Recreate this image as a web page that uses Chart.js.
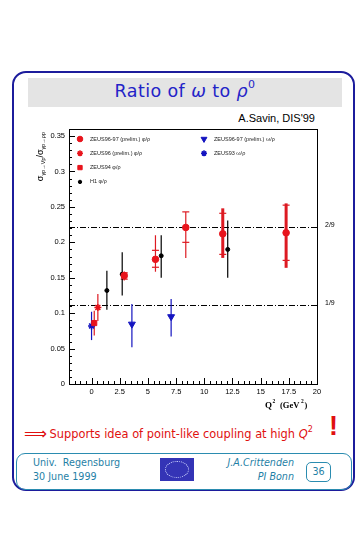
<!DOCTYPE html>
<html>
<head>
<meta charset="utf-8">
<script src="https://cdn.jsdelivr.net/npm/chart.js@4/dist/chart.umd.min.js"></script>
<style>
body{margin:0;background:#fff;width:363px;height:535px;position:relative;overflow:hidden;font-family:"DejaVu Sans",Verdana,sans-serif}
.abs{position:absolute;white-space:nowrap}
#frame{left:12px;top:71px;width:339px;height:416px;border:2px solid #1c1c9c;border-radius:14px}
#band{left:28px;top:78px;width:314px;height:29px;background:#e4e4e4}
#title{left:28px;top:80px;width:314px;text-align:center;font-size:17.5px;letter-spacing:0.4px;color:#2323c8}
#title sup{font-size:11px;position:relative;top:-2px}
#author{left:180px;top:112px;width:135px;text-align:right;font-family:"Liberation Sans",Arial,sans-serif;font-size:11px;color:#000}
#chartbox{left:0;top:110px;width:363px;height:300px}
#claim{left:24px;top:423px;font-size:11.4px;color:#e01010}
#claim .arr{font-size:16px;position:relative;top:1px;letter-spacing:-1px}
#claim sup{font-size:8px;position:relative;top:-1px}
#bang{left:329px;top:411px;font-size:27px;font-weight:bold;color:#e01010;font-family:"Liberation Sans",Arial,sans-serif}
#footer{left:16px;top:453px;width:334px;height:35px;border:1.5px solid #2b8cb0;border-radius:9px}
.foot{font-size:9.6px;color:#1f7fa6}
#logo{left:160px;top:458px;width:34px;height:23px;background:#3434b6}
#logo div{position:absolute;left:5px;top:3px;width:22px;height:15px;border:1px dotted #cfd6ff;border-radius:50%}
#page{left:306px;top:462px;width:23px;height:18px;border:1.5px solid #2b8cb0;border-radius:5px;text-align:center;line-height:18px;font-size:9.6px;color:#1f7fa6}
</style>
</head>
<body>
<div class="abs" id="frame"></div>
<div class="abs" id="band"></div>
<div class="abs" id="title">Ratio of <i>ω</i> to <i>ρ</i><sup>0</sup></div>
<div class="abs" id="author">A.Savin, DIS'99</div>
<div class="abs" id="chartbox"><canvas id="ratioChart" width="363" height="300"></canvas></div>
<div class="abs" id="claim"><span class="arr">⟹</span> Supports idea of point-like coupling at high <i>Q</i><sup>2</sup></div>
<div class="abs" id="bang">!</div>
<div class="abs" id="footer"></div>
<div class="abs foot" style="left:33px;top:457px">Univ.&nbsp; Regensburg</div>
<div class="abs foot" style="left:33px;top:471px">30 June 1999</div>
<div class="abs" id="logo"><div></div></div>
<div class="abs foot" style="left:190px;top:457px;width:104px;text-align:right;font-style:italic">J.A.Crittenden</div>
<div class="abs foot" style="left:190px;top:471px;width:104px;text-align:right;font-style:italic">PI Bonn</div>
<div class="abs" id="page">36</div>

<script>
// ZEUS96-97 (prelim.) phi/rho
var zeusPhiQ2 = [2.9, 5.67, 8.36, 11.64, 17.26];
var zeusPhiVal = [0.153, 0.176, 0.221, 0.212, 0.2135];
var zeusPhiErrUp = [0.006, 0.034, 0.022, 0.036, 0.0415];
var zeusPhiErrDn = [0.007, 0.0175, 0.043, 0.034, 0.0495];
var zeusPhiStatUp = [0.004, 0.0127, 0.022, 0.029, 0.039];
var zeusPhiStatDn = [0.005, 0.0112, 0.021, 0.029, 0.039];

// ZEUS96 (prelim.) phi/rho
var zeus96PhiQ2 = [0.56];
var zeus96PhiVal = [0.108];
var zeus96PhiErr = [0.019];

// ZEUS94 phi/rho
var zeus94PhiQ2 = [0.24];
var zeus94PhiVal = [0.086];
var zeus94PhiErr = [0.0175];

// H1 phi/rho
var h1PhiQ2 = [1.36, 2.72, 6.18, 12.08];
var h1PhiVal = [0.132, 0.155, 0.181, 0.190];
var h1PhiErrUp = [0.028, 0.031, 0.029, 0.041];
var h1PhiErrDn = [0.027, 0.030, 0.031, 0.040];

// ZEUS96-97 (prelim.) omega/rho
var zeusOmQ2 = [3.58, 7.06];
var zeusOmVal = [0.0845, 0.095];
var zeusOmErrUp = [0.0285, 0.025];
var zeusOmErrDn = [0.0325, 0.028];

// ZEUS93 omega/rho
var zeus93OmQ2 = [0.0];
var zeus93OmVal = [0.082];
var zeus93OmErr = [0.02];

var ratioLines = [2 / 9, 1 / 9];
var ratioLabels = ['2/9', '1/9'];

var xTicks = [0, 2.5, 5, 7.5, 10, 12.5, 15, 17.5, 20];
var xTickLabels = ['0', '2.5', '5', '7.5', '10', '12.5', '15', '17.5', '20'];
var yTicks = [0, 0.05, 0.1, 0.15, 0.2, 0.25, 0.3, 0.35];
var yTickLabels = ['0', '0.05', '0.1', '0.15', '0.2', '0.25', '0.3', '0.35'];

function pts(q, v) {
  return q.map(function (x, i) { return {x: x, y: v[i]}; });
}

var RED = '#e8141c', BLUE = '#1414c0';

var datasets = [
  {label: 'ZEUS96-97 (prelim.) φ/ρ', data: pts(zeusPhiQ2, zeusPhiVal), col: 0,
   errUp: zeusPhiErrUp, errDn: zeusPhiErrDn, statUp: zeusPhiStatUp, statDn: zeusPhiStatDn,
   barColor: '#dd1a22', barWidth: [1.2, 1.2, 1.2, 3, 3],
   pointStyle: 'circle', pointRadius: 3.3, backgroundColor: RED, borderColor: RED},
  {label: 'ZEUS96 (prelim.) φ/ρ', data: pts(zeus96PhiQ2, zeus96PhiVal), col: 0,
   errUp: zeus96PhiErr, errDn: zeus96PhiErr, barColor: '#dd1a22', barWidth: [1.2],
   pointStyle: 'star', pointRadius: 3.5, borderWidth: 1.5, backgroundColor: RED, borderColor: RED},
  {label: 'ZEUS94 φ/ρ', data: pts(zeus94PhiQ2, zeus94PhiVal), col: 0,
   errUp: zeus94PhiErr, errDn: zeus94PhiErr, barColor: '#dd1a22', barWidth: [1.2],
   pointStyle: 'rect', pointRadius: 3.6, backgroundColor: RED, borderColor: RED},
  {label: 'H1 φ/ρ', data: pts(h1PhiQ2, h1PhiVal), col: 0,
   errUp: h1PhiErrUp, errDn: h1PhiErrDn, barColor: '#000', barWidth: [1.2, 1.2, 1.2, 1.2],
   pointStyle: 'circle', pointRadius: 2, backgroundColor: '#000', borderColor: '#000'},
  {label: 'ZEUS96-97 (prelim.) ω/ρ', data: pts(zeusOmQ2, zeusOmVal), col: 1,
   errUp: zeusOmErrUp, errDn: zeusOmErrDn, barColor: BLUE, barWidth: [1.2, 1.2],
   pointStyle: 'triangle', rotation: 180, pointRadius: 4, backgroundColor: BLUE, borderColor: BLUE},
  {label: 'ZEUS93 ω/ρ', data: pts(zeus93OmQ2, zeus93OmVal), col: 1,
   errUp: zeus93OmErr, errDn: zeus93OmErr, barColor: BLUE, barWidth: [1.2],
   pointStyle: 'star', pointRadius: 3.5, borderWidth: 1.5, backgroundColor: BLUE, borderColor: BLUE}
];

// error bars, frame, ticks, reference lines, legend and axis titles
var rootStyle = {
  id: 'rootStyle',
  beforeDatasetsDraw: function (chart) {
    var ctx = chart.ctx, ys = chart.scales.y, a = chart.chartArea;
    ctx.save();
    // dash-dot lines at 2/9 and 1/9
    ctx.strokeStyle = '#000';
    ctx.lineWidth = 1;
    ctx.setLineDash([6, 2, 1, 2]);
    ratioLines.forEach(function (v, i) {
      var y = Math.round(ys.getPixelForValue(v)) + 0.5;
      ctx.beginPath(); ctx.moveTo(a.left, y); ctx.lineTo(a.right, y); ctx.stroke();
      ctx.font = '7px "Liberation Sans", Arial';
      ctx.fillStyle = '#000';
      ctx.textBaseline = 'middle';
      ctx.fillText(ratioLabels[i], a.right + 8, y - 2);
    });
    ctx.setLineDash([]);
    // error bars
    chart.data.datasets.forEach(function (ds, di) {
      var meta = chart.getDatasetMeta(di);
      ctx.strokeStyle = ds.barColor;
      ds.data.forEach(function (p, j) {
        var x = meta.data[j].x;
        ctx.lineWidth = ds.barWidth[j];
        ctx.beginPath();
        ctx.moveTo(x, ys.getPixelForValue(p.y + ds.errUp[j]));
        ctx.lineTo(x, ys.getPixelForValue(p.y - ds.errDn[j]));
        ctx.stroke();
        if (ds.statUp) {
          ctx.lineWidth = 1.2;
          [p.y + ds.statUp[j], p.y - ds.statDn[j]].forEach(function (v) {
            var y = ys.getPixelForValue(v);
            ctx.beginPath(); ctx.moveTo(x - 3.5, y); ctx.lineTo(x + 3.5, y); ctx.stroke();
          });
        }
      });
    });
    ctx.restore();
  },
  afterDraw: function (chart) {
    var ctx = chart.ctx, xs = chart.scales.x, ys = chart.scales.y, a = chart.chartArea;
    ctx.save();
    ctx.strokeStyle = '#000';
    ctx.lineWidth = 1;
    ctx.strokeRect(Math.round(a.left) + 0.5, Math.round(a.top) + 0.5,
      Math.round(a.right - a.left), Math.round(a.bottom - a.top));
    // ticks
    ctx.beginPath();
    for (var k = 0; k <= 36; k++) {
      var y = Math.round(ys.getPixelForValue(k / 100)) + 0.5;
      var len = (k % 5 === 0) ? 6 : 3;
      ctx.moveTo(a.left, y); ctx.lineTo(a.left + len, y);
    }
    for (var m = -4; m <= 40; m++) {
      var x = Math.round(xs.getPixelForValue(m / 2)) + 0.5;
      var l2 = (m % 5 === 0) ? 6 : 3;
      ctx.moveTo(x, a.bottom); ctx.lineTo(x, a.bottom - l2);
    }
    ctx.stroke();
    // legend
    ctx.font = '5.5px "Liberation Sans", Arial';
    ctx.textBaseline = 'middle';
    var rows = [0, 0];
    chart.data.datasets.forEach(function (ds) {
      var lx = a.left + (ds.col === 0 ? 11 : 135);
      var ly = a.top + 10 + rows[ds.col] * 14.3;
      rows[ds.col]++;
      ctx.fillStyle = ds.backgroundColor;
      ctx.strokeStyle = ds.borderColor;
      ctx.lineWidth = ds.borderWidth || 1;
      Chart.helpers.drawPoint(ctx, {pointStyle: ds.pointStyle, radius: ds.pointRadius * 0.85,
        rotation: ds.rotation || 0, borderWidth: ds.borderWidth || 1}, lx, ly);
      ctx.fillStyle = '#222';
      ctx.fillText(ds.label, lx + 10, ly);
    });
    // y axis title
    ctx.save();
    ctx.translate(43, a.top + 3);
    ctx.rotate(-Math.PI / 2);
    ctx.fillStyle = '#000';
    ctx.textBaseline = 'alphabetic';
    var parts = [['σ', 9, 0], ['γp→Vp', 5.5, 2], ['/', 9, 0], ['σ', 9, 0], ['γp→ρp', 5.5, 2]];
    var total = 0;
    parts.forEach(function (p) { ctx.font = p[1] + 'px "Liberation Sans", Arial'; total += ctx.measureText(p[0]).width; });
    var cx = -total;
    parts.forEach(function (p) {
      ctx.font = p[1] + 'px "Liberation Sans", Arial';
      ctx.fillText(p[0], cx, p[2]);
      cx += ctx.measureText(p[0]).width;
    });
    ctx.restore();
    // x axis title
    ctx.fillStyle = '#000';
    ctx.textBaseline = 'alphabetic';
    var xx = a.right - 52;
    ctx.font = 'bold 9px "Liberation Serif", serif';
    ctx.fillText('Q', xx, a.bottom + 24);
    ctx.font = 'bold 5.5px "Liberation Serif", serif';
    ctx.fillText('2', xx + 7.5, a.bottom + 19);
    ctx.font = 'bold 8.5px "Liberation Serif", serif';
    ctx.fillText('(GeV', xx + 15, a.bottom + 24);
    ctx.font = 'bold 5.5px "Liberation Serif", serif';
    ctx.fillText('2', xx + 36, a.bottom + 19);
    ctx.font = 'bold 8.5px "Liberation Serif", serif';
    ctx.fillText(')', xx + 39.5, a.bottom + 24);
    ctx.restore();
  }
};

var chart = new Chart(document.getElementById('ratioChart'), {
  type: 'scatter',
  data: {datasets: datasets},
  options: {
    responsive: false,
    animation: false,
    layout: {padding: {top: 19, right: 46, left: 0, bottom: 0}},
    plugins: {legend: {display: false}, tooltip: {enabled: false}},
    scales: {
      x: {
        type: 'linear', min: -2, max: 20,
        grid: {display: false, drawTicks: false, tickLength: 0}, border: {display: false},
        afterFit: function (s) { s.height = 26; },
        afterBuildTicks: function (s) { s.ticks = xTicks.map(function (v) { return {value: v}; }); },
        ticks: {padding: 3, color: '#000', maxRotation: 0, font: {family: 'Liberation Sans', size: 7.5},
          callback: function (v, i) { return xTickLabels[i]; }}
      },
      y: {
        type: 'linear', min: 0, max: 0.36,
        grid: {display: false, drawTicks: false, tickLength: 0}, border: {display: false},
        afterFit: function (s) { s.width = 69; },
        afterBuildTicks: function (s) { s.ticks = yTicks.map(function (v) { return {value: v}; }); },
        ticks: {padding: 4, color: '#000', font: {family: 'Liberation Sans', size: 7.5},
          callback: function (v, i) { return yTickLabels[i]; }}
      }
    }
  },
  plugins: [rootStyle]
});
</script>
</body>
</html>
